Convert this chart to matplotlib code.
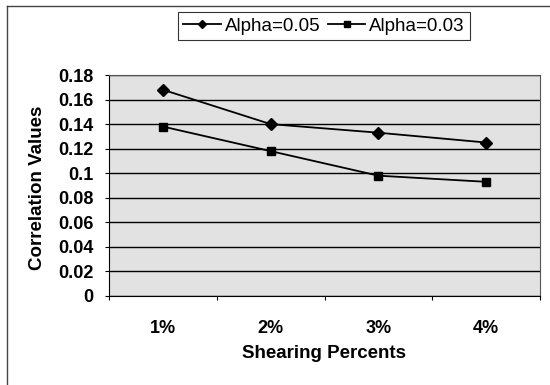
import matplotlib
matplotlib.use("Agg")
import matplotlib.pyplot as plt
from matplotlib.lines import Line2D

categories = ["1%", "2%", "3%", "4%"]
alpha_005 = [0.168, 0.140, 0.133, 0.125]
alpha_003 = [0.138, 0.118, 0.098, 0.093]
yticks = [0, 0.02, 0.04, 0.06, 0.08, 0.1, 0.12, 0.14, 0.16, 0.18]
ytick_labels = ["0", "0.02", "0.04", "0.06", "0.08", "0.1", "0.12", "0.14", "0.16", "0.18"]

plt.rcParams['font.family'] = ['Liberation Sans', 'DejaVu Sans']

W, H = 550, 385
fig = plt.figure(figsize=(5.5, 3.85), dpi=100)
fig.patch.set_facecolor('white')

ax = fig.add_axes([109 / W, 1 - 296 / H, (540 - 109) / W, (296 - 75) / H])
ax.set_facecolor('#e2e2e2')

x = list(range(len(categories)))
ax.plot(x, alpha_005, color='black', lw=1.3, marker='D', markersize=6.0,
        label='Alpha=0.05', zorder=3)
ax.plot(x, alpha_003, color='black', lw=1.3, marker='s', markersize=6.0,
        label='Alpha=0.03', zorder=3)

ax.set_xlim(-0.5, len(categories) - 0.5)
ax.set_ylim(0, 0.18)
ax.set_yticks(yticks)
ax.set_yticklabels(ytick_labels)
ax.yaxis.grid(True, color='black', lw=1.0)
ax.set_axisbelow(True)

ax.set_xticks([i + 0.5 for i in range(-1, len(categories))])
ax.set_xticklabels([])
ax.set_xticks(x, minor=True)
ax.set_xticklabels(categories, minor=True)
ax.tick_params(axis='x', which='major', direction='out', length=3, width=0.8)
ax.tick_params(axis='x', which='minor', length=0, pad=17)
ax.tick_params(axis='y', direction='out', length=3, width=0.8, pad=8)
for lab in ax.get_xticklabels(minor=True) + ax.get_yticklabels():
    lab.set_fontweight('bold')
    lab.set_fontsize(13)

for s in ax.spines.values():
    s.set_color('#555555')
    s.set_linewidth(0.8)
ax.spines['left'].set_color('black')
ax.spines['bottom'].set_color('black')

fig.text(324.5 / W, 1 - 353 / H, "Shearing Percents", ha='center', va='center',
         fontsize=13.5, fontweight='bold')
fig.text(38 / W, 1 - 188 / H, "Correlation Values", ha='center', va='center',
         rotation=90, fontsize=13.5, fontweight='bold')

leg = fig.legend(loc='center', bbox_to_anchor=(324 / W, 1 - 26 / H), ncol=2,
                 frameon=True, fancybox=False, fontsize=13.5, markerscale=0.75,
                 handlelength=2.0, handletextpad=0.2, columnspacing=0.4,
                 borderpad=0.3, borderaxespad=0)
leg.get_frame().set_edgecolor('black')
leg.get_frame().set_linewidth(0.8)

fig.add_artist(Line2D([7 / W, 7 / W], [0, 1 - 6 / H], color='#444444', lw=1.0,
                      transform=fig.transFigure))
fig.add_artist(Line2D([7 / W, 1], [1 - 6 / H, 1 - 6 / H], color='#444444', lw=1.0,
                      transform=fig.transFigure))

fig.savefig("out.png", dpi=100)
